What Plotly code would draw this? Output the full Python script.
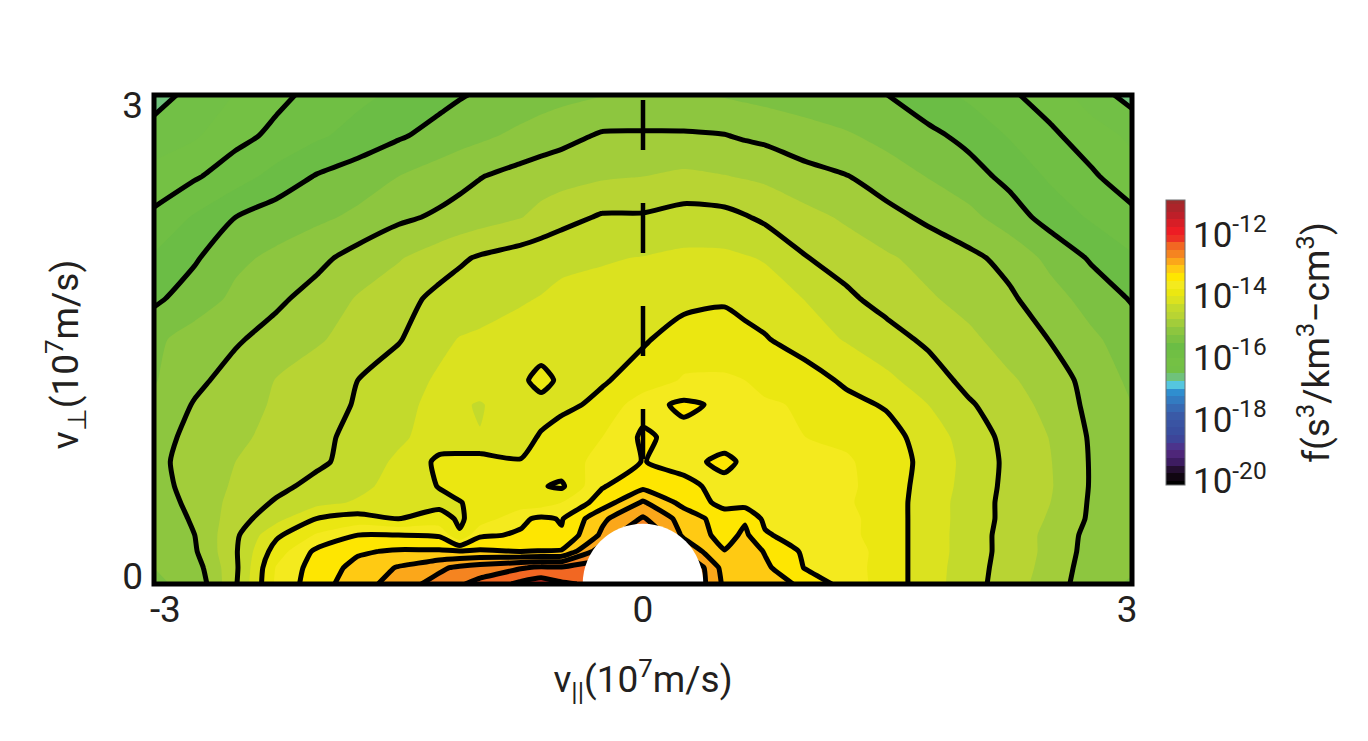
import plotly.graph_objects as go

FONT = "Roboto, sans-serif"
INK = "#231f20"

# v_parallel and v_perp (10^7 m/s)
v_par = [-3, -2.75, -2.5, -2.25, -2, -1.75, -1.5, -1.25, -1.125, -1, -0.75, -0.625, -0.5, -0.25,
         0, 0.25, 0.5, 0.625, 0.75, 1, 1.25, 1.5, 1.75, 2, 2.25, 2.5, 2.75, 3]
v_perp = [0, 0.1, 0.2, 0.3, 0.4, 0.5, 0.6, 0.75, 0.9, 1.1, 1.25, 1.5, 1.75, 2, 2.25, 2.5, 2.75, 3]

# log10 f, one list per v_perp value
f_300 = [-16.6,-16.42,-16.24,-16.06,-15.93,-15.81,-15.7,-15.58,-15.52,-15.47,-15.4,-15.36,-15.32,-15.26,-15.22,-15.23,-15.27,-15.3,-15.33,-15.39,-15.45,-15.5,-15.65,-15.8,-15.96,-16.12,-16.37,-16.6]
f_275 = [-16.4,-16.28,-16.08,-15.94,-15.79,-15.66,-15.53,-15.41,-15.35,-15.3,-15.19,-15.13,-15.08,-14.97,-14.97,-14.97,-14.99,-15.03,-15.06,-15.14,-15.22,-15.33,-15.44,-15.57,-15.77,-15.95,-16.13,-16.3]
f_250 = [-16.15,-16.03,-15.86,-15.66,-15.48,-15.37,-15.25,-15.13,-15.07,-15.01,-14.91,-14.87,-14.84,-14.78,-14.75,-14.7,-14.74,-14.77,-14.8,-14.92,-14.99,-15.13,-15.26,-15.4,-15.57,-15.79,-15.96,-16.15]
f_225 = [-15.95,-15.72,-15.5,-15.37,-15.3,-15.2,-15.05,-14.96,-14.91,-14.86,-14.76,-14.67,-14.59,-14.47,-14.47,-14.4,-14.42,-14.48,-14.55,-14.67,-14.79,-14.92,-15.05,-15.18,-15.38,-15.6,-15.78,-15.93]
f_200 = [-15.72,-15.53,-15.3,-15.2,-15.07,-14.9,-14.77,-14.62,-14.54,-14.47,-14.38,-14.34,-14.3,-14.27,-14.24,-14.2,-14.2,-14.23,-14.27,-14.49,-14.61,-14.72,-14.83,-14.94,-15.08,-15.32,-15.53,-15.72]
f_175 = [-15.55,-15.37,-15.2,-15.05,-14.9,-14.73,-14.6,-14.43,-14.37,-14.33,-14.27,-14.24,-14.2,-14.17,-14.14,-14.05,-14.03,-14.08,-14.13,-14.26,-14.45,-14.6,-14.72,-14.83,-14.96,-15.15,-15.35,-15.52]
f_150 = [-15.3,-15.15,-15.03,-14.9,-14.78,-14.65,-14.52,-14.3,-14.24,-14.22,-14.17,-14.14,-14.12,-14.08,-14.02,-13.92,-13.88,-13.93,-13.98,-14.13,-14.27,-14.4,-14.55,-14.7,-14.85,-15.01,-15.2,-15.38]
f_125 = [-15.27,-15.06,-14.9,-14.74,-14.62,-14.5,-14.35,-14.22,-14.17,-14.13,-14.05,-13.92,-14.05,-14.02,-13.92,-13.72,-13.72,-13.75,-13.82,-13.88,-14.05,-14.2,-14.37,-14.58,-14.72,-14.86,-15.1,-15.3]
f_110 = [-15.2,-14.98,-14.85,-14.72,-14.6,-14.48,-14.33,-14.17,-14.22,-14.27,-14.1,-14.08,-14.05,-13.95,-13.59,-13.45,-13.55,-13.65,-13.72,-13.78,-13.92,-14.03,-14.25,-14.47,-14.65,-14.82,-15.07,-15.25]
f_090 = [-15.13,-14.9,-14.8,-14.68,-14.57,-14.42,-14.3,-14.12,-14.2,-14.24,-14.07,-13.98,-13.9,-13.75,-13.46,-13.58,-13.65,-13.67,-13.68,-13.75,-13.8,-13.9,-14.12,-14.36,-14.58,-14.76,-15.03,-15.2]
f_075 = [-15.1,-14.85,-14.75,-14.65,-14.55,-14.4,-14.2,-13.95,-13.9,-13.88,-13.99,-13.92,-13.85,-13.68,-13.49,-13.6,-13.42,-13.56,-13.65,-13.7,-13.72,-13.87,-14.08,-14.33,-14.56,-14.74,-15.02,-15.2]
f_060 = [-15.12,-14.88,-14.72,-14.57,-14.42,-14.32,-14.15,-13.99,-13.92,-13.85,-13.88,-13.98,-14.04,-13.52,-13.32,-13.42,-13.6,-13.62,-13.64,-13.74,-13.7,-13.88,-14.1,-14.34,-14.57,-14.73,-15.02,-15.2]
f_050 = [-15.15,-14.92,-14.67,-14.47,-14.33,-14.22,-14.12,-14.06,-14.01,-13.93,-13.9,-13.88,-13.75,-13.38,-12.97,-13.33,-13.58,-13.6,-13.64,-13.73,-13.72,-13.88,-14.12,-14.36,-14.58,-14.75,-15.03,-15.2]
f_040 = [-15.2,-14.96,-14.62,-14.33,-13.99,-13.9,-14.0,-13.92,-14.03,-13.9,-13.55,-13.45,-13.52,-13.05,-12.72,-13.1,-13.38,-13.28,-13.56,-13.68,-13.68,-13.88,-14.12,-14.36,-14.58,-14.78,-15.04,-15.2]
f_030 = [-15.2,-15.0,-14.55,-14.05,-13.72,-13.5,-13.5,-13.53,-13.98,-13.54,-13.47,-13.47,-13.47,-12.95,-12.4,-13.05,-13.35,-13.2,-13.47,-13.63,-13.68,-13.88,-14.12,-14.37,-14.6,-14.82,-15.08,-15.2]
f_020 = [-15.22,-15.03,-14.53,-13.88,-13.44,-13.28,-13.22,-13.22,-13.23,-13.22,-13.25,-13.24,-13.23,-12.6,-12.0,-12.8,-13.24,-13.1,-13.27,-13.55,-13.6,-13.88,-14.12,-14.37,-14.6,-14.82,-15.1,-15.2]
f_010 = [-15.25,-15.12,-14.55,-13.73,-13.38,-13.18,-12.98,-12.8,-12.7,-12.64,-12.52,-12.46,-12.47,-12.4,-12.0,-12.4,-13.1,-13.05,-13.2,-13.52,-13.62,-13.88,-14.12,-14.4,-14.6,-14.85,-15.12,-15.2]
f_000 = [-15.28,-15.2,-14.53,-13.7,-13.35,-13.12,-12.88,-12.65,-12.53,-12.42,-12.2,-12.12,-12.22,-12.3,-12.0,-12.4,-13.05,-13.1,-13.08,-13.33,-13.6,-13.88,-14.12,-14.42,-14.6,-14.91,-15.1,-15.3]

f_grid = [f_000, f_010, f_020, f_030, f_040, f_050, f_060, f_075, f_090, f_110,
          f_125, f_150, f_175, f_200, f_225, f_250, f_275, f_300]

# colour stops: log10 f, colour
ZMIN, ZMAX = -20.1, -10.9
stops = [(-20.1, "#000000"), (-19.7, "#1a0a1c"), (-19.4, "#3a1a5c"), (-19.0, "#552a84"),
         (-18.55, "#39499c"), (-17.8, "#3a5ba8"), (-17.1, "#2f8fd0"), (-16.875, "#54c6e2"),
         (-16.625, "#6fc27c"), (-16.375, "#72c046"), (-16.125, "#74c144"), (-15.875, "#70bf44"),
         (-15.625, "#6bbd45"), (-15.375, "#7cc142"), (-15.125, "#8dc63f"), (-14.875, "#a2cd3a"),
         (-14.625, "#b8d433"), (-14.375, "#c3da2c"), (-14.125, "#dce21f"), (-13.875, "#ece711"),
         (-13.625, "#f4ea1f"), (-13.375, "#ffe600"), (-13.125, "#ffc814"), (-12.875, "#fba51a"),
         (-12.625, "#f58220"), (-12.375, "#f26522"), (-12.125, "#ed2e24"), (-11.875, "#ed1c24"),
         (-11.3, "#b5202a"), (-10.9, "#9e2a2b")]
colorscale = [[(v - ZMIN) / (ZMAX - ZMIN), c] for v, c in stops]

tick_vals = [-20, -18, -16, -14, -12]
tick_text = ["10<sup>-20</sup>", "10<sup>-18</sup>", "10<sup>-16</sup>", "10<sup>-14</sup>", "10<sup>-12</sup>"]

dash_x = [0, 0]
dash_y = [2.97, 0.76]
hole_radius = 0.37

fig = go.Figure()
fig.add_trace(go.Contour(
    x=v_par, y=v_perp, z=f_grid, zmin=ZMIN, zmax=ZMAX, autocontour=False,
    colorscale=colorscale,
    contours=dict(start=-20, end=-11, size=0.25, coloring="fill", showlines=False),
    line=dict(width=0, smoothing=0.6),
    colorbar=dict(
        lenmode="pixels", len=285, thicknessmode="pixels", thickness=19,
        x=1.0348, xanchor="left", xpad=0, y=0.494, yanchor="middle", ypad=0,
        tickvals=tick_vals, ticktext=tick_text, ticks="", outlinecolor="#6d6e71", outlinewidth=1,
        tickfont=dict(family=FONT, size=35, color=INK),
    ),
    hoverinfo="skip",
))
black = [[0, "black"], [1, "black"]]
fig.add_trace(go.Contour(
    x=v_par, y=v_perp, z=f_grid, autocontour=False, colorscale=black, showscale=False,
    contours=dict(start=-16.5, end=-13.5, size=0.5, coloring="lines"),
    line=dict(width=5, color="black", smoothing=0.6), hoverinfo="skip",
))
fig.add_trace(go.Contour(
    x=v_par, y=v_perp, z=f_grid, autocontour=False, colorscale=black, showscale=False,
    contours=dict(start=-13.25, end=-12.25, size=0.25, coloring="lines"),
    line=dict(width=5, color="black", smoothing=0.3), hoverinfo="skip",
))
fig.add_trace(go.Scatter(
    x=dash_x, y=dash_y, mode="lines", showlegend=False, hoverinfo="skip",
    line=dict(color="black", width=4.5, dash="50px,53px"),
))

fig.add_shape(type="circle", xref="x", yref="y", x0=-hole_radius, x1=hole_radius,
              y0=-hole_radius, y1=hole_radius, fillcolor="white", line=dict(width=0), layer="above")
fig.add_shape(type="rect", xref="paper", yref="paper", x0=0, x1=1, y0=0, y1=1,
              line=dict(color="black", width=5), fillcolor="rgba(0,0,0,0)", layer="above")

axis_common = dict(showgrid=False, zeroline=False, showline=False, ticks="",
                   tickfont=dict(family=FONT, size=37, color=INK))
fig.update_xaxes(range=[-3, 3], tickvals=[-2.93, 0, 2.97], ticktext=["-3", "0", "3"],
                 title=dict(text="v<sub>||</sub>(10<sup>7</sup>m/s)", standoff=36,
                            font=dict(family=FONT, size=37, color=INK)), **axis_common)
fig.update_yaxes(range=[0, 3], tickvals=[0.05, 2.94], ticktext=["0", "3"],
                 ticklabelstandoff=10, **axis_common)

fig.add_annotation(text="v<sub>⊥</sub>(10<sup>7</sup>m/s)", textangle=-90,
                   xref="paper", yref="paper", x=-0.091, y=0.468, xanchor="center", yanchor="middle",
                   showarrow=False, font=dict(family=FONT, size=37, color=INK))
fig.add_annotation(text="f(s<sup>3</sup>/km<sup>3</sup>−cm<sup>3</sup>)", textangle=-90,
                   xref="paper", yref="paper", x=1.187, y=0.495, xanchor="center", yanchor="middle",
                   showarrow=False, font=dict(family=FONT, size=37, color=INK))

fig.update_layout(width=1352, height=725, margin=dict(l=146, r=228, t=87, b=149, autoexpand=False),
                  paper_bgcolor="white", plot_bgcolor="white", showlegend=False, font=dict(family=FONT))
fig.write_html("out.html")
